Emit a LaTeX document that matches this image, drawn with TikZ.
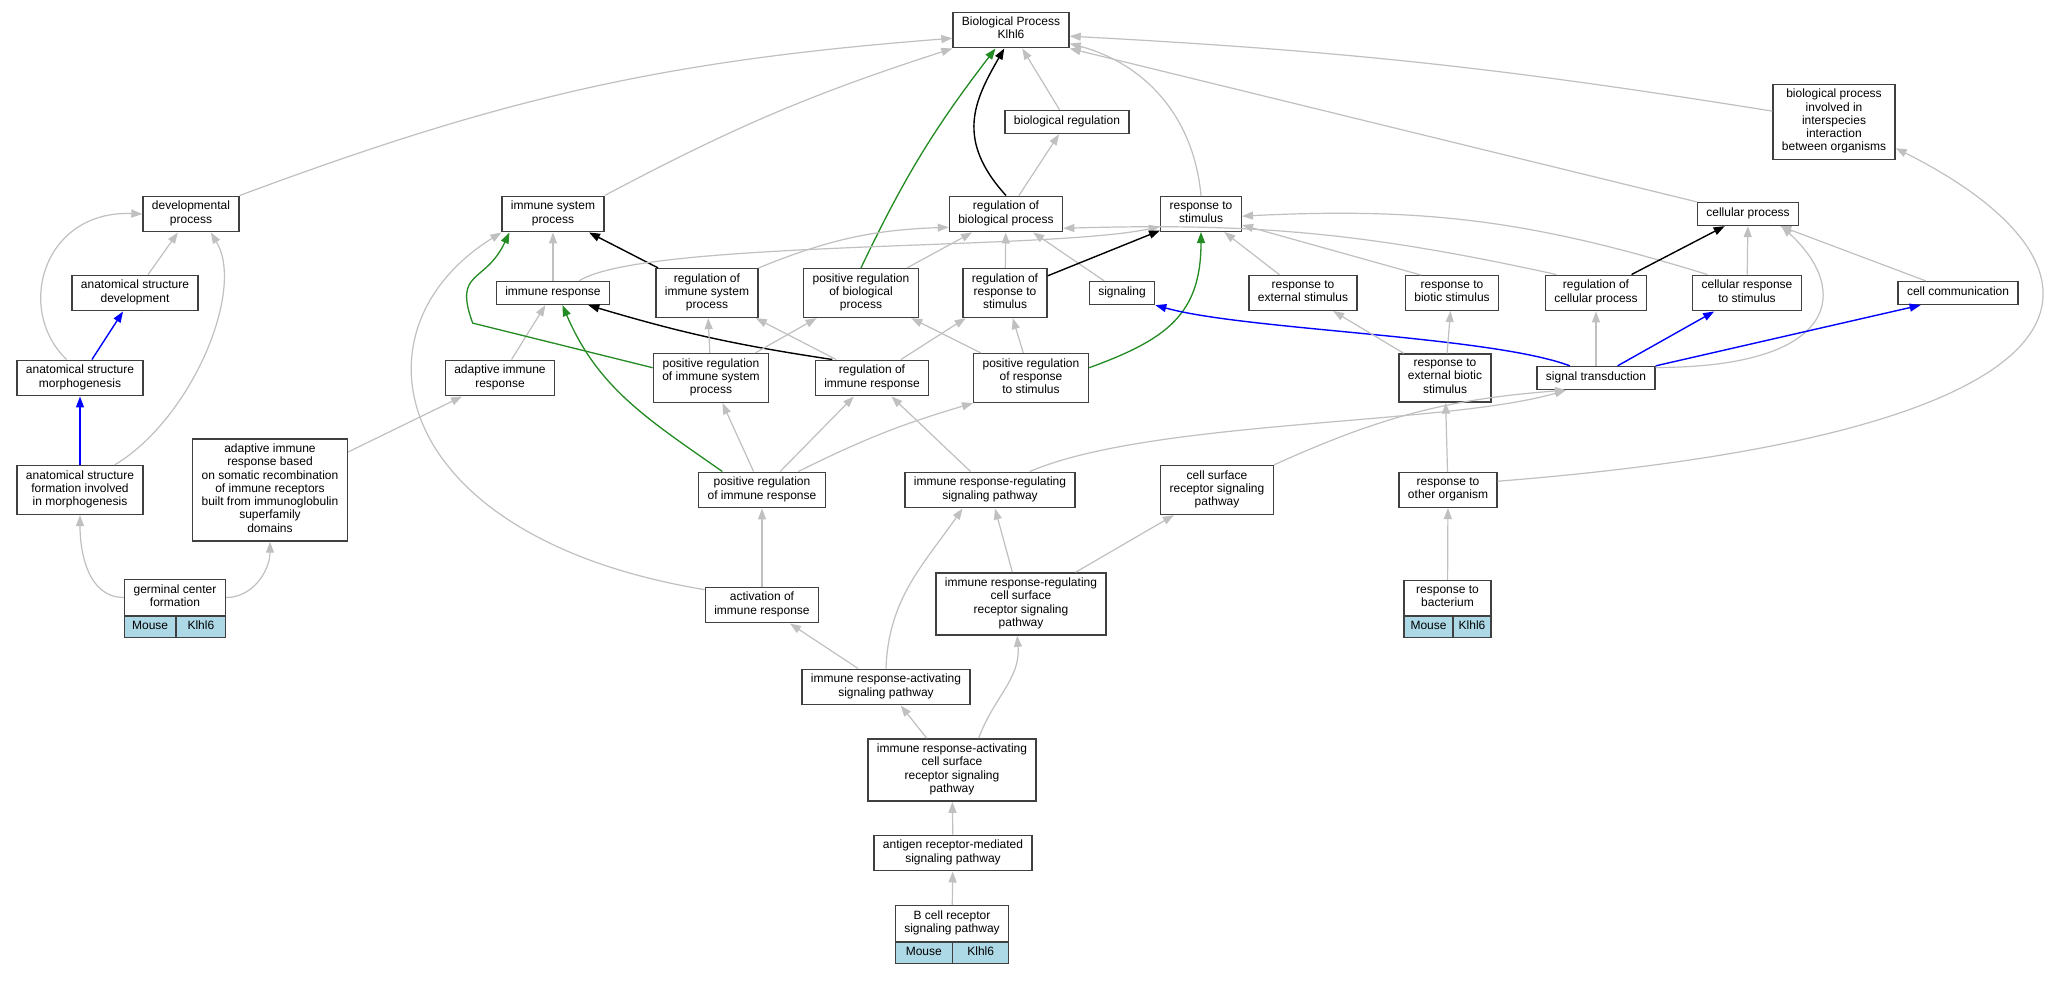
\documentclass[tikz,border=0pt]{standalone}
\usepackage{fontspec}
\setmainfont{Liberation Sans}
\usetikzlibrary{arrows.meta}

\definecolor{isagray}{RGB}{192,192,192}
\definecolor{posgreen}{RGB}{34,139,34}
\definecolor{speciesblue}{RGB}{173,216,230}

\begin{document}
\begin{tikzpicture}[x=1pt, y=1pt,
    term/.style={draw=black!75, line width=1.3pt, fill=white, align=center,
        inner xsep=9pt, inner ysep=4.85pt, font=\fontsize{12}{13.3}\selectfont,
        execute at begin node=\strut, execute at end node=\strut},
    species/.style={draw=black!75, line width=1.3pt, fill=speciesblue,
        inner xsep=4pt, inner ysep=3.85pt, font=\fontsize{12}{13.3}\selectfont,
        execute at begin node=\strut},
    tip/.style={-{Triangle[length=11pt, width=8pt]}},
    isa/.style={tip, draw=isagray, line width=1.2pt},
    reg/.style={tip, draw=black, line width=1.4pt},
    posreg/.style={tip, draw=posgreen, line width=1.3pt},
    partof/.style={tip, draw=blue, line width=1.4pt}]

    % Page size
    \fill[white] (0,0) rectangle (2062,-987);
    \useasboundingbox (0,0) rectangle (2062,-987);

    % Draw the terms, row by row
    \node[term] (bp) at (1011,-30) {Biological Process\\Klhl6};

    \node[term] (bioreg) at (1067,-122) {biological regulation};
    \node[term] (bpinter) at (1834,-122) {biological process\\involved in\\interspecies\\interaction\\between organisms};

    \node[term] (devproc) at (191,-214) {developmental\\process};
    \node[term] (immsys) at (553,-214) {immune system\\process};
    \node[term] (regbp) at (1006,-214) {regulation of\\biological process};
    \node[term] (respstim) at (1201,-214) {response to\\stimulus};
    \node[term] (cellproc) at (1748,-214) {cellular process};

    \node[term] (asdev) at (135,-293) {anatomical structure\\development};
    \node[term] (immresp) at (553,-293) {immune response};
    \node[term] (regisp) at (707,-293) {regulation of\\immune system\\process};
    \node[term] (posregbp) at (861,-293) {positive regulation\\of biological\\process};
    \node[term] (regrs) at (1005,-293) {regulation of\\response to\\stimulus};
    \node[term] (signaling) at (1122,-293) {signaling};
    \node[term] (respext) at (1303,-293) {response to\\external stimulus};
    \node[term] (respbiotic) at (1452,-293) {response to\\biotic stimulus};
    \node[term] (regcell) at (1596,-293) {regulation of\\cellular process};
    \node[term] (cellresp) at (1747,-293) {cellular response\\to stimulus};
    \node[term] (cellcomm) at (1958,-293) {cell communication};

    \node[term] (asmorph) at (80,-378) {anatomical structure\\morphogenesis};
    \node[term] (adaptive) at (500,-378) {adaptive immune\\response};
    \node[term] (posregisp) at (711,-378) {positive regulation\\of immune system\\process};
    \node[term] (regir) at (872,-378) {regulation of\\immune response};
    \node[term] (posregrs) at (1031,-378) {positive regulation\\of response\\to stimulus};
    \node[term] (respextbiotic) at (1445,-378) {response to\\external biotic\\stimulus};
    \node[term] (sigtrans) at (1596,-378) {signal transduction};

    \node[term] (asform) at (80,-490) {anatomical structure\\formation involved\\in morphogenesis};
    \node[term] (adaptsomatic) at (270,-490) {adaptive immune\\response based\\on somatic recombination\\of immune receptors\\built from immunoglobulin\\superfamily\\domains};
    \node[term] (posregir) at (762,-490) {positive regulation\\of immune response};
    \node[term] (irrsp) at (990,-490) {immune response-regulating\\signaling pathway};
    \node[term] (cellsurf) at (1217,-490) {cell surface\\receptor signaling\\pathway};
    \node[term] (respother) at (1448,-490) {response to\\other organism};

    \node[term, minimum width=100pt] (germ) at (175,-597.5) {germinal center\\formation};
    \node[species, minimum width=51pt, anchor=north west] (germmouse) at (germ.south west) {Mouse};
    \node[species, minimum width=49pt, anchor=north east] (germgene) at (germ.south east) {Klhl6};
    \node[term] (activ) at (762,-605) {activation of\\immune response};
    \node[term] (irrcsr) at (1021,-604) {immune response-regulating\\cell surface\\receptor signaling\\pathway};
    \node[term, minimum width=87pt] (respbact) at (1447.5,-598) {response to\\bacterium};
    \node[species, minimum width=49pt, anchor=north west] (bactmouse) at (respbact.south west) {Mouse};
    \node[species, minimum width=38pt, anchor=north east] (bactgene) at (respbact.south east) {Klhl6};

    \node[term] (irasp) at (886,-687) {immune response-activating\\signaling pathway};
    \node[term] (iracsr) at (952,-770) {immune response-activating\\cell surface\\receptor signaling\\pathway};
    \node[term] (antigen) at (953,-853) {antigen receptor-mediated\\signaling pathway};
    \node[term, minimum width=113pt] (bcell) at (952,-923.5) {B cell receptor\\signaling pathway};
    \node[species, minimum width=57pt, anchor=north west] (bcellmouse) at (bcell.south west) {Mouse};
    \node[species, minimum width=56pt, anchor=north east] (bcellgene) at (bcell.south east) {Klhl6};

    % Edges into the root
    \draw[isa] (devproc.north east) to[bend left=8] (bp.188);
    \draw[isa] (immsys.north east) to[bend left=5] (bp.south west);
    \draw[isa] (bioreg) -- (bp);
    \draw[reg] (regbp.north) .. controls +(-51,56) and +(-30,-52) .. (bp.250);
    \draw[posreg] (posregbp.north) to[bend left=6] (bp.230);
    \draw[isa] (respstim.north) to[out=95, in=-15] (bp.347);
    \draw[isa] (bpinter.170) to[bend right=3] (bp.354);
    \draw[isa] (cellproc.north west) -- (bp.south east);
    \draw[isa] (regbp.55) -- (bioreg);

    % Anatomical structure branch
    \draw[isa] (asdev) -- (devproc);
    \draw[isa] (asmorph.126) .. controls +(-52,50) and +(-99,4) .. (devproc.west);
    \draw[isa] (asform.36) .. controls +(76,45) and +(35,-58) .. (devproc.317);
    \draw[partof] (asmorph) -- (asdev);
    \draw[partof] (asform) -- (asmorph);
    \draw[isa] (germ.west) to[out=180, in=-90] (asform);
    \draw[isa] (germ.east) to[out=0, in=-90] (adaptsomatic);

    % Immune branch
    \draw[isa] (adaptsomatic) -- (adaptive);
    \draw[isa] (adaptive) -- (immresp);
    \draw[isa] (immresp) -- (immsys);
    \draw[reg] (regisp) -- (immsys);
    \draw[posreg] (posregisp.170) -- ++(-180,44.6) to[out=110, in=-115, looseness=1.5] (immsys.203);
    \draw[isa] (activ.165) .. controls +(-315,52) and +(-157,-98) .. (immsys.south west);
    \draw[posreg] (posregir.155) to[out=145, in=-67] (immresp.308);
    \draw[reg] (regir.155) to[bend left=4] (immresp.341);
    \draw[isa] (posregisp) -- (regisp);
    \draw[isa] (regir) -- (regisp);
    \draw[isa] (posregisp) -- (posregbp);
    \draw[isa] (posregrs) -- (posregbp);
    \draw[isa] (immresp.25) .. controls +(65,41) and +(-110,-24) .. (respstim.197);

    % Regulation and response
    \draw[isa] (regisp.north east) to[bend left=10] (regbp.193);
    \draw[isa] (posregbp) -- (regbp);
    \draw[isa] (regrs) -- (regbp);
    \draw[isa] (signaling) -- (regbp);
    \draw[isa] (regcell.155) to[bend right=7] (regbp.346);
    \draw[reg] (regrs) -- (respstim);
    \draw[posreg] (posregrs.10) to[out=20, in=-90, looseness=1.2] (respstim);
    \draw[isa] (respext) -- (respstim);
    \draw[isa] (respbiotic.150) -- (respstim.345);
    \draw[isa] (cellresp.155) to[bend right=10] (respstim.357);

    % Cellular branch
    \draw[reg] (regcell) -- (cellproc);
    \draw[isa] (cellresp) -- (cellproc);
    \draw[isa] (cellcomm) -- (cellproc);
    \draw[isa] (sigtrans.10) .. controls +(184,0) and +(70,-64) .. (cellproc.340);
    \draw[partof] (sigtrans.155) .. controls +(-80,30) and +(90,-25) .. (signaling.south east);
    \draw[partof] (sigtrans) -- (cellresp);
    \draw[partof] (sigtrans.north east) -- (cellcomm.198);
    \draw[isa] (sigtrans) -- (regcell);

    % Other organism branch
    \draw[isa] (respextbiotic) -- (respext);
    \draw[isa] (respextbiotic) -- (respbiotic);
    \draw[isa] (respother) -- (respextbiotic);
    \draw[isa] (respother.10) .. controls +(654,52) and +(224,-112) .. (bpinter.337);
    \draw[isa] (respbact) -- (respother);

    % Signaling pathways
    \draw[isa] (irrsp.25) .. controls +(122,52) and +(-119,-35) .. (sigtrans.202);
    \draw[isa] (cellsurf.north east) to[bend left=10] (sigtrans.202);
    \draw[isa] (posregir.27) to[bend left=5] (posregrs.south west);
    \draw[isa] (posregrs) -- (regrs);
    \draw[isa] (regir) -- (regrs);
    \draw[isa] (posregir) -- (regir);
    \draw[isa] (irrsp) -- (regir);
    \draw[isa] (posregir) -- (posregisp);
    \draw[isa] (activ) -- (posregir);
    \draw[isa] (irasp.north) to[out=88, in=-125] (irrsp.214);
    \draw[isa] (irrcsr) -- (irrsp);
    \draw[isa] (irrcsr) -- (cellsurf);
    \draw[isa] (irasp) -- (activ);
    \draw[isa] (iracsr) -- (irasp);
    \draw[isa] (iracsr.50) to[out=70, in=-85] (irrcsr.263);
    \draw[isa] (antigen) -- (iracsr);
    \draw[isa] (bcell) -- (antigen);
\end{tikzpicture}
\end{document}
